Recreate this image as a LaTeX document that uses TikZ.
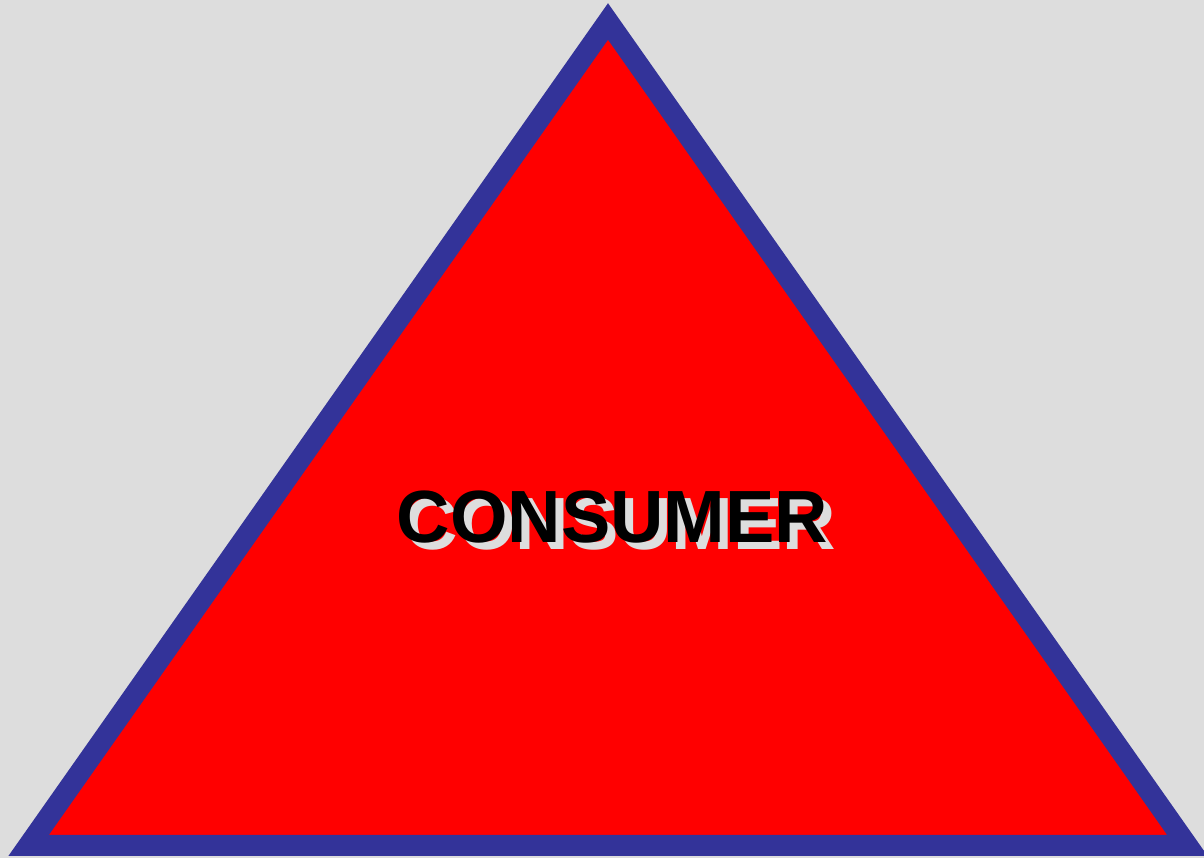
\documentclass[tikz,border=0pt]{standalone}
\usepackage{fontspec}
\setmainfont{Liberation Sans}
\definecolor{bg}{HTML}{DDDDDD}
\definecolor{edge}{HTML}{333399}
\definecolor{fillred}{HTML}{FF0000}
\definecolor{shadow}{HTML}{DDDDDD}
\begin{document}
\begin{tikzpicture}[x=1pt,y=1pt,
  tri/.style={draw=edge,fill=fillred,line width=21pt,line join=miter,miter limit=10},
  label/.style={font=\fontsize{74}{74}\selectfont\bfseries,inner sep=0pt,anchor=base}]
\fill[bg] (0,0) rectangle (1204,858);
\useasboundingbox (0,0) rectangle (1204,858);
\coordinate (apex) at (608,836.5);
\coordinate (bl) at (28.6,12.5);
\coordinate (br) at (1187.4,12.5);
\draw[tri] (apex) -- (bl) -- (br) -- cycle;
\node[label,text=shadow] (shadowtext) at (620.5,308.5) {CONSUMER};
\node[label,text=black] (maintext) at (612.5,315) {CONSUMER};
\end{tikzpicture}
\end{document}
